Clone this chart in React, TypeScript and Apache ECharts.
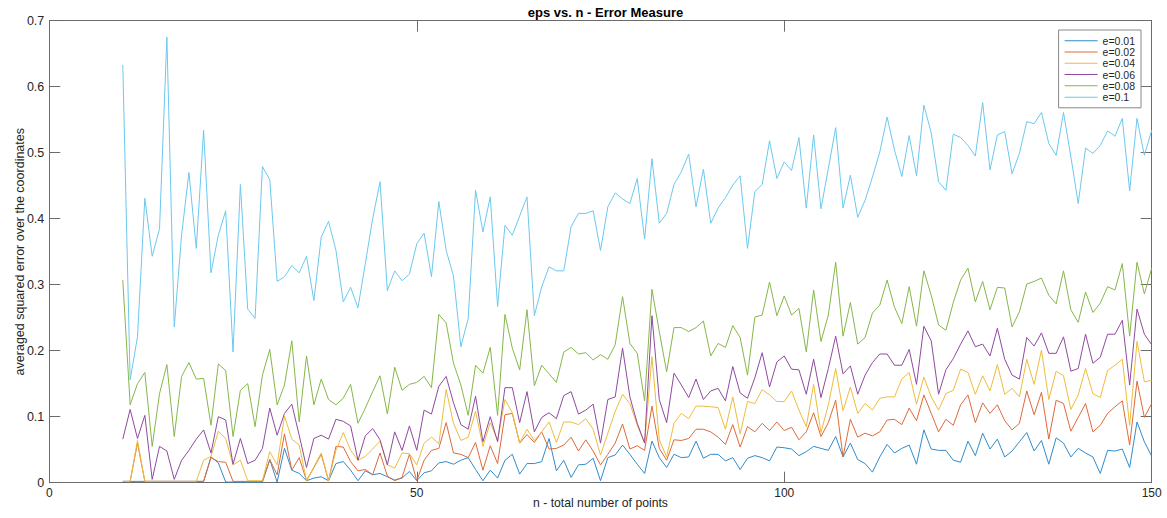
import React, { useEffect, useRef } from "react";
import * as echarts from "echarts";

// n = 10 .. 150
const nStart = 10;
const nEnd = 150;

const seriesNames = ["e=0.01", "e=0.02", "e=0.04", "e=0.06", "e=0.08", "e=0.1"];
const seriesColors = ["#2f8ccb", "#dd6a3a", "#eebc3c", "#8f4a9e", "#86b64a", "#6cc8ef"];

const e001 = [
  0.002, 0.002, 0.002, 0.002, 0.002, 0.002, 0.002, 0.002, 0.002, 0.002,
  0.002, 0.002, 0.039, 0.030, 0.001, 0.001, 0.001, 0.001, 0.001, 0.001,
  0.035, 0.001, 0.052, 0.019, 0.014, 0.003, 0.007, 0.009, 0.003,
  0.029, 0.032, 0.019, 0.003, 0.018, 0.012, 0.014, 0.009, 0.004, 0.007,
  0.017, 0.003, 0.015, 0.018, 0.030, 0.032, 0.028, 0.034, 0.038, 0.020,
  0.003, 0.019, 0.007, 0.034, 0.043, 0.013, 0.029, 0.029, 0.032, 0.067,
  0.018, 0.034, 0.008, 0.027, 0.028, 0.037, 0.003, 0.038,
  0.042, 0.057, 0.043, 0.028, 0.014, 0.063, 0.038, 0.023, 0.043, 0.038,
  0.039, 0.063, 0.037, 0.043, 0.043, 0.033, 0.038, 0.020, 0.037, 0.041,
  0.038, 0.033, 0.054, 0.053, 0.051, 0.041, 0.047, 0.055, 0.052, 0.049,
  0.070, 0.039, 0.060, 0.035, 0.029, 0.016, 0.039, 0.058,
  0.045, 0.052, 0.057, 0.028, 0.080, 0.051, 0.049, 0.049, 0.034, 0.031,
  0.063, 0.041, 0.075, 0.051, 0.066, 0.039, 0.048, 0.062, 0.076, 0.048,
  0.064, 0.028, 0.068, 0.060, 0.039, 0.052, 0.045, 0.039, 0.014, 0.049,
  0.048, 0.051, 0.023, 0.092, 0.062, 0.040,
];

const e002 = [
  0.002, 0.002, 0.060, 0.002, 0.002, 0.002, 0.002, 0.002, 0.002, 0.002,
  0.002, 0.002, 0.038, 0.032, 0.031, 0.002, 0.002, 0.002, 0.002, 0.002,
  0.035, 0.012, 0.074, 0.019, 0.038, 0.003, 0.023, 0.043, 0.003,
  0.055, 0.054, 0.032, 0.018, 0.020, 0.012, 0.045, 0.010, 0.003, 0.008,
  0.043, 0.003, 0.034, 0.049, 0.052, 0.091, 0.045, 0.043, 0.038, 0.061,
  0.019, 0.056, 0.029, 0.103, 0.105, 0.060, 0.073, 0.061, 0.077, 0.051,
  0.052, 0.057, 0.069, 0.048, 0.065, 0.048, 0.027, 0.043,
  0.060, 0.089, 0.051, 0.056, 0.049, 0.116, 0.052, 0.034, 0.065, 0.064,
  0.067, 0.081, 0.081, 0.077, 0.069, 0.058, 0.088, 0.054, 0.085, 0.077,
  0.090, 0.079, 0.092, 0.079, 0.084, 0.065, 0.077, 0.106, 0.070, 0.091,
  0.125, 0.039, 0.096, 0.069, 0.075, 0.071, 0.077, 0.095,
  0.096, 0.088, 0.113, 0.094, 0.133, 0.105, 0.077, 0.096, 0.087, 0.118,
  0.133, 0.091, 0.121, 0.105, 0.118, 0.094, 0.080, 0.090, 0.139, 0.103,
  0.137, 0.066, 0.125, 0.120, 0.078, 0.099, 0.120, 0.077, 0.087, 0.105,
  0.115, 0.124, 0.057, 0.154, 0.099, 0.120,
];

const e004 = [
  0.002, 0.002, 0.064, 0.002, 0.002, 0.002, 0.002, 0.002, 0.002, 0.002,
  0.002, 0.034, 0.040, 0.078, 0.067, 0.027, 0.034, 0.003, 0.003, 0.003,
  0.047, 0.027, 0.101, 0.066, 0.057, 0.003, 0.024, 0.045, 0.003,
  0.049, 0.076, 0.049, 0.034, 0.040, 0.051, 0.063, 0.027, 0.022, 0.045,
  0.044, 0.027, 0.060, 0.069, 0.059, 0.141, 0.090, 0.064, 0.069, 0.108,
  0.055, 0.091, 0.064, 0.126, 0.106, 0.060, 0.081, 0.064, 0.077, 0.092,
  0.061, 0.092, 0.092, 0.088, 0.097, 0.081, 0.042, 0.075,
  0.108, 0.134, 0.120, 0.087, 0.060, 0.191, 0.065, 0.039, 0.090, 0.105,
  0.097, 0.116, 0.116, 0.115, 0.114, 0.081, 0.130, 0.074, 0.123, 0.120,
  0.141, 0.133, 0.123, 0.123, 0.139, 0.110, 0.085, 0.149, 0.076, 0.118,
  0.173, 0.109, 0.145, 0.105, 0.120, 0.110, 0.128, 0.130,
  0.130, 0.157, 0.167, 0.119, 0.160, 0.130, 0.110, 0.135, 0.140, 0.172,
  0.167, 0.134, 0.162, 0.139, 0.179, 0.134, 0.143, 0.130, 0.187, 0.149,
  0.201, 0.126, 0.169, 0.162, 0.111, 0.133, 0.173, 0.135, 0.129, 0.170,
  0.178, 0.187, 0.087, 0.214, 0.153, 0.155,
];

const e006 = [
  0.066, 0.111, 0.067, 0.102, 0.005, 0.055, 0.048, 0.005, 0.034, 0.049,
  0.066, 0.080, 0.045, 0.100, 0.095, 0.028, 0.067, 0.029, 0.034, 0.052,
  0.113, 0.072, 0.105, 0.119, 0.072, 0.023, 0.067, 0.072, 0.066, 0.096,
  0.093, 0.086, 0.034, 0.071, 0.082, 0.065, 0.027, 0.077, 0.049, 0.086,
  0.049, 0.110, 0.104, 0.146, 0.161, 0.121, 0.088, 0.081, 0.131, 0.062,
  0.100, 0.062, 0.144, 0.144, 0.091, 0.138, 0.077, 0.099, 0.106, 0.097,
  0.132, 0.138, 0.104, 0.110, 0.119, 0.060, 0.126, 0.130, 0.204, 0.130,
  0.090, 0.060, 0.253, 0.126, 0.091, 0.166, 0.148, 0.129, 0.157, 0.126,
  0.139, 0.143, 0.124, 0.176, 0.136, 0.128, 0.159, 0.197, 0.145, 0.183,
  0.192, 0.172, 0.171, 0.134, 0.187, 0.129, 0.173, 0.222, 0.165, 0.177,
  0.134, 0.163, 0.182, 0.195, 0.195, 0.178, 0.178, 0.202, 0.149, 0.237,
  0.215, 0.134, 0.171, 0.188, 0.210, 0.230, 0.206, 0.210, 0.192, 0.234,
  0.187, 0.163, 0.157, 0.220, 0.207, 0.227, 0.196, 0.196, 0.221, 0.169,
  0.173, 0.225, 0.181, 0.190, 0.225, 0.225, 0.246, 0.148, 0.263, 0.225,
  0.209,
];

const e008 = [
  0.307, 0.118, 0.150, 0.167, 0.055, 0.135, 0.179, 0.070, 0.161, 0.182,
  0.157, 0.158, 0.087, 0.180, 0.170, 0.070, 0.140, 0.150, 0.085, 0.163,
  0.202, 0.118, 0.148, 0.215, 0.092, 0.192, 0.118, 0.157, 0.126, 0.118,
  0.128, 0.149, 0.090, 0.113, 0.138, 0.162, 0.104, 0.175, 0.140, 0.149,
  0.152, 0.161, 0.144, 0.255, 0.242, 0.181, 0.148, 0.102, 0.178, 0.166,
  0.205, 0.102, 0.255, 0.204, 0.171, 0.262, 0.147, 0.178, 0.165, 0.152,
  0.198, 0.205, 0.195, 0.197, 0.186, 0.194, 0.187, 0.209, 0.282, 0.211,
  0.196, 0.124, 0.293, 0.229, 0.168, 0.235, 0.235, 0.229, 0.235, 0.245,
  0.192, 0.211, 0.205, 0.238, 0.220, 0.163, 0.251, 0.254, 0.304, 0.253,
  0.283, 0.254, 0.264, 0.198, 0.292, 0.214, 0.254, 0.334, 0.222, 0.273,
  0.210, 0.220, 0.257, 0.269, 0.307, 0.266, 0.241, 0.297, 0.237, 0.321,
  0.284, 0.239, 0.231, 0.273, 0.307, 0.325, 0.274, 0.305, 0.262, 0.296,
  0.295, 0.236, 0.259, 0.301, 0.305, 0.310, 0.284, 0.271, 0.321, 0.262,
  0.243, 0.289, 0.258, 0.272, 0.297, 0.292, 0.332, 0.222, 0.334, 0.286,
  0.325,
];

const e010 = [
  0.633, 0.156, 0.221, 0.431, 0.343, 0.385, 0.675, 0.236, 0.375, 0.470,
  0.355, 0.534, 0.318, 0.375, 0.412, 0.198, 0.452, 0.263, 0.249, 0.479,
  0.459, 0.305, 0.312, 0.329, 0.318, 0.343, 0.276, 0.372, 0.396, 0.352,
  0.274, 0.296, 0.265, 0.332, 0.400, 0.456, 0.291, 0.321, 0.306, 0.316,
  0.362, 0.378, 0.312, 0.426, 0.352, 0.313, 0.206, 0.249, 0.443, 0.380,
  0.433, 0.267, 0.390, 0.375, 0.404, 0.433, 0.253, 0.297, 0.327, 0.321,
  0.321, 0.388, 0.408, 0.408, 0.412, 0.352, 0.418, 0.439, 0.430, 0.423,
  0.461, 0.369, 0.491, 0.393, 0.408, 0.452, 0.471, 0.498, 0.418, 0.475,
  0.393, 0.416, 0.432, 0.451, 0.465, 0.355, 0.441, 0.452, 0.518, 0.461,
  0.486, 0.473, 0.523, 0.416, 0.527, 0.415, 0.476, 0.538, 0.416, 0.466,
  0.402, 0.428, 0.463, 0.501, 0.554, 0.504, 0.464, 0.526, 0.465, 0.572,
  0.530, 0.456, 0.443, 0.528, 0.523, 0.511, 0.495, 0.576, 0.474, 0.527,
  0.532, 0.468, 0.499, 0.547, 0.544, 0.561, 0.514, 0.496, 0.561, 0.494,
  0.423, 0.507, 0.499, 0.511, 0.533, 0.525, 0.552, 0.442, 0.552, 0.496,
  0.534,
];

const allValues = [e001, e002, e004, e006, e008, e010];

const xTicks = { min: 0, max: 150, interval: 50 };
const yTicks = { min: 0, max: 0.7, interval: 0.1 };

const FONT = "'Liberation Sans', Arial, Helvetica, sans-serif";
const AXIS_COLOR = "#6b6b6b";
const TEXT_COLOR = "#262626";

export default function App() {
  const ref = useRef<HTMLDivElement>(null);

  useEffect(() => {
    if (!ref.current) return;
    const chart = echarts.init(ref.current, undefined, { renderer: "svg" });

    const series = allValues.map((vals, i) => ({
      name: seriesNames[i],
      type: "line",
      xAxisIndex: 0,
      yAxisIndex: 0,
      symbol: "none",
      showSymbol: false,
      lineStyle: { width: 1, color: seriesColors[i] },
      itemStyle: { color: seriesColors[i] },
      emphasis: { disabled: true },
      data: vals.map((v, k) => [nStart + k, v]).filter((p) => p[0] <= nEnd),
    }));

    const baseX = {
      type: "value",
      min: xTicks.min,
      max: xTicks.max,
      interval: xTicks.interval,
      splitLine: { show: false },
      axisLine: { show: true, onZero: false, lineStyle: { color: AXIS_COLOR, width: 1 } },
      axisTick: { show: true, inside: true, length: 11, lineStyle: { color: AXIS_COLOR } },
    };
    const baseY = {
      type: "value",
      min: yTicks.min,
      max: yTicks.max,
      interval: yTicks.interval,
      splitLine: { show: false },
      axisLine: { show: true, onZero: false, lineStyle: { color: AXIS_COLOR, width: 1 } },
      axisTick: { show: true, inside: true, length: 11, lineStyle: { color: AXIS_COLOR } },
    };

    chart.setOption({
      animation: false,
      textStyle: { fontFamily: FONT },
      title: {
        text: "eps vs. n - Error Measure",
        left: 600.5,
        textAlign: "center",
        top: 1,
        textStyle: { fontFamily: FONT, fontSize: 13, fontWeight: "bold", color: "#000" },
      },
      grid: {
        left: 49.3,
        right: 15.3,
        top: 20.7,
        bottom: 35.3,
        containLabel: false,
        outerBoundsMode: "none",
      },
      legend: {
        orient: "vertical",
        right: 26,
        top: 30,
        icon: "rect",
        itemWidth: 33,
        itemHeight: 1,
        itemGap: 0,
        padding: [5, 6, 5, 6],
        borderColor: "#888",
        borderWidth: 1,
        backgroundColor: "#fff",
        textStyle: { fontFamily: FONT, fontSize: 10.5, color: TEXT_COLOR, lineHeight: 11.3 },
        data: seriesNames,
      },
      xAxis: [
        {
          ...baseX,
          position: "bottom",
          name: "n - total number of points",
          nameLocation: "middle",
          nameGap: 14,
          nameMoveOverlap: false,
          nameTextStyle: { fontFamily: FONT, fontSize: 12.2, color: TEXT_COLOR },
          axisLabel: { show: true, margin: 4, fontSize: 12, color: TEXT_COLOR, fontFamily: FONT },
        },
        {
          ...baseX,
          position: "top",
          axisLabel: { show: false },
        },
      ],
      yAxis: [
        {
          ...baseY,
          position: "left",
          name: "averaged squared error over the coordinates",
          nameLocation: "middle",
          nameGap: 23,
          nameMoveOverlap: false,
          nameTextStyle: { fontFamily: FONT, fontSize: 12.5, color: TEXT_COLOR },
          axisLabel: { show: true, margin: 5, fontSize: 12.5, color: TEXT_COLOR, fontFamily: FONT },
        },
        {
          ...baseY,
          position: "right",
          axisLabel: { show: false },
        },
      ],
      series,
    });

    return () => chart.dispose();
  }, []);

  return (
    <div
      ref={ref}
      style={{ position: "fixed", left: 0, top: 0, width: 1167, height: 518, background: "#fff" }}
    />
  );
}
